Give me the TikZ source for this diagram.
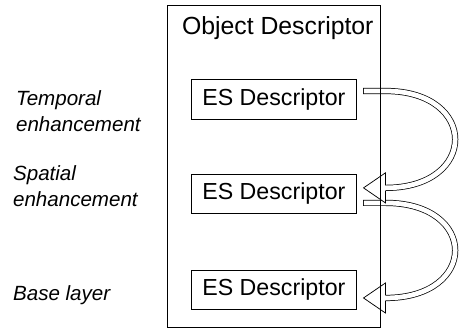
\documentclass[tikz,border=0pt]{standalone}
\usepackage{fontspec}
\setmainfont{Liberation Sans}
\usetikzlibrary{positioning,backgrounds}

\tikzset{
  esbox/.style={draw, line width=.7pt, minimum width=5.47cm, minimum height=1.33cm, inner sep=0pt, font=\fontsize{22}{26}\selectfont},
  layerlabel/.style={anchor=north west, inner sep=0pt, align=left, font=\fontsize{19.5}{24.5}\selectfont\itshape},
  hollow/.style={double, double distance=4.5pt, line width=.7pt, line cap=rect},
}

\begin{document}
\begin{tikzpicture}
\useasboundingbox (0,0) rectangle (15.367,10.933);
% object descriptor with its three ES descriptors
\node[draw, line width=.7pt, minimum width=7.07cm, minimum height=10.73cm, inner sep=0pt] (objdesc) at (9.13,5.4) {};
\node[anchor=base, font=\fontsize{23.5}{28}\selectfont] (odtitle) at ([xshift=.13cm,yshift=-1cm]objdesc.north) {Object Descriptor};
\node[esbox] (es1) at (9.13,7.63) {ES Descriptor};
\node[esbox] (es2) at (9.13,4.47) {ES Descriptor};
\node[esbox] (es3) at (9.13,1.27) {ES Descriptor};
% layer names
\node[layerlabel] (temporal) at (.53,7.93) {Temporal\\enhancement};
\node[layerlabel] (spatial) at (.43,5.43) {Spatial\\enhancement};
\node[layerlabel] (base) at (.43,1.43) {Base layer};
% hollow arrows, behind the box
\coordinate (t1) at ([shift={(.33,.27)}]es1.east);
\coordinate (h1) at ([shift={(.24,.2)}]es2.east);
\coordinate (t2) at ([shift={(.33,-.3)}]es2.east);
\coordinate (h2) at ([shift={(.24,-.27)}]es3.east);
\begin{scope}[on background layer]
\draw[hollow] (t2) -- ([xshift=.64cm]t2) .. controls +(3.1,0) and +(3.1,0) .. ([xshift=7.3mm]h2);
\fill[white] (h2) -- ++(.73,.5) -- ++(0,-1) -- cycle;
\draw[line width=.7pt] (h2) ++(.73,.104) -- ++(0,.396) -- (h2) -- ++(.73,-.5) -- ++(0,.396);
\draw[hollow] (t1) -- ([xshift=.64cm]t1) .. controls +(3.1,0) and +(3.1,0) .. ([xshift=7.3mm]h1);
\fill[white] (h1) -- ++(.73,.5) -- ++(0,-1) -- cycle;
\draw[line width=.7pt] (h1) ++(.73,.104) -- ++(0,.396) -- (h1) -- ++(.73,-.5) -- ++(0,.396);
\end{scope}
\end{tikzpicture}
\end{document}
